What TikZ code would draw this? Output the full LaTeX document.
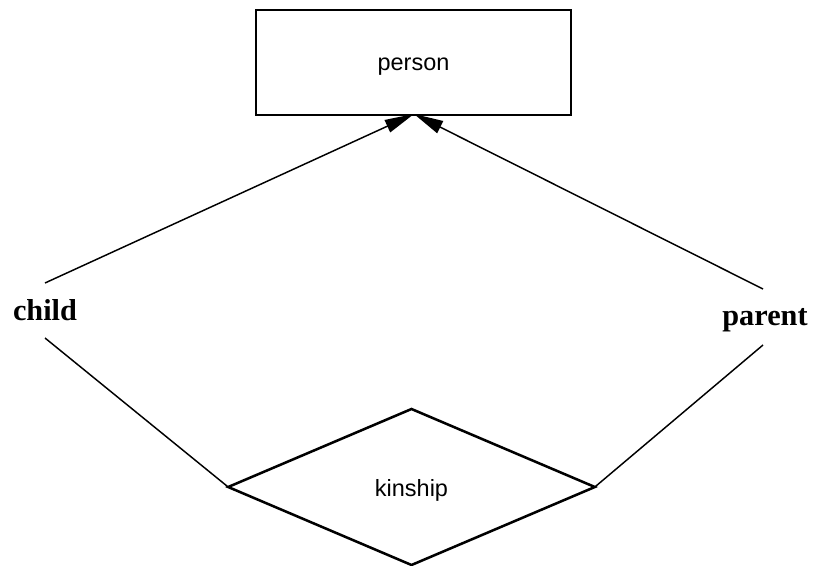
\documentclass[tikz,border=0pt]{standalone}
\usepackage{fontspec}
\setmainfont{Liberation Serif}
\newfontfamily\sansf{Liberation Sans}
\usetikzlibrary{shapes.geometric,arrows.meta}
\begin{document}
\begin{tikzpicture}[x=0.75pt,y=-0.75pt,
  entity/.style={draw,line width=1.5pt,rectangle,minimum width=236pt,minimum height=78.5pt,inner sep=0pt,text height=12pt,text depth=0pt,font=\sansf\fontsize{17.6}{20}\selectfont},
  relship/.style={draw,line width=1.9pt,diamond,minimum width=275pt,minimum height=117pt,inner sep=0pt,outer sep=0pt,text height=14.6pt,text depth=0pt,font=\sansf\fontsize{17.6}{20}\selectfont},
  rolelabel/.style={font=\bfseries\fontsize{22.7}{26}\selectfont,inner sep=0pt},
  link/.style={line width=1.1pt},
  arr/.style={line width=1.1pt,-{Triangle[length=22pt,width=10pt]}}]
\useasboundingbox (0,0) rectangle (817,566);
\node[entity] (person) at (413.5,62.5) {person};
\node[relship] (kin) at (411.5,487) {kinship};
\node[rolelabel,anchor=base] (child) at (45,321) {child};
\node[rolelabel,anchor=base] (parent) at (765,326) {parent};
\coordinate (tip) at (414,114);
\coordinate (c1) at (45,283);
\coordinate (c2) at (45,338);
\coordinate (p1) at (763,289);
\coordinate (p2) at (763,345);
\draw[arr] (c1) -- (tip);
\draw[arr] (p1) -- (tip);
\draw[link] (c2) -- (kin.west);
\draw[link] (p2) -- (kin.east);
\end{tikzpicture}
\end{document}
